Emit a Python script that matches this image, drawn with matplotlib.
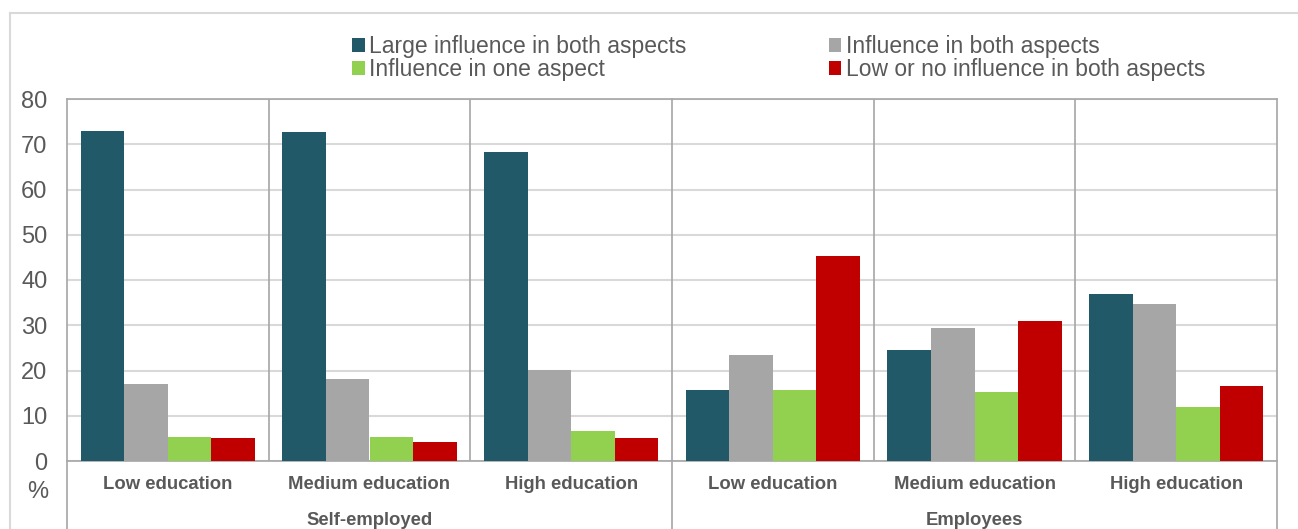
import numpy as np
import matplotlib.pyplot as plt
from matplotlib.lines import Line2D

plt.switch_backend('agg')
plt.rcParams['font.family'] = ['Liberation Sans', 'DejaVu Sans']

# data (%)
categories = ['Low education', 'Medium education', 'High education',
              'Low education', 'Medium education', 'High education']
groups = ['Self-employed', 'Employees']
series = ['Large influence in both aspects', 'Influence in both aspects',
          'Influence in one aspect', 'Low or no influence in both aspects']
large_both = [72.9, 72.7, 68.3, 15.7, 24.5, 37.0]
infl_both = [17.0, 18.1, 20.1, 23.4, 29.3, 34.7]
infl_one = [5.3, 5.3, 6.6, 15.8, 15.2, 12.0]
low_none = [5.0, 4.2, 5.1, 45.3, 30.9, 16.5]
yticks = [0, 10, 20, 30, 40, 50, 60, 70, 80]

colors = ['#215968', '#a6a6a6', '#92d050', '#c00000']
txt = '#595959'
sep = '#a6a6a6'

W, H = 1298, 529
fig = plt.figure(figsize=(W/100, H/100), dpi=100)
ax = fig.add_axes([67/W, (H-461)/H, (1277-67)/W, (461-99)/H])

# outer frame of the chart (only top/left visible in the crop)
fig.add_artist(Line2D([10/W, 10/W], [0, 1-13/H], color='#d9d9d9', lw=1.5,
                      transform=fig.transFigure))
fig.add_artist(Line2D([10/W, 1], [1-13/H, 1-13/H], color='#d9d9d9', lw=1.5,
                      transform=fig.transFigure))

x = np.arange(len(categories)) + 0.5
bw = 0.216
vals = [large_both, infl_both, infl_one, low_none]
for i, (v, c, lab) in enumerate(zip(vals, colors, series)):
    ax.bar(x + (i - 1.5)*bw, v, width=bw, color=c, label=lab, zorder=3,
           edgecolor='none')

ax.set_xlim(0, len(categories))
ax.set_ylim(0, 80)
ax.set_yticks(yticks)
ax.set_yticklabels([str(t) for t in yticks], fontsize=17, color=txt)
ax.tick_params(axis='y', length=0, pad=14)
ax.set_xticks([])
ax.yaxis.grid(True, color='#d9d9d9', lw=1.5, zorder=0)
for s in ax.spines.values():
    s.set_color(sep)
    s.set_linewidth(1.2)
ax.spines['left'].set_visible(False)
ax.spines['right'].set_visible(False)

# separators between categories and groups
for b in [1, 2, 4, 5]:
    ax.plot([b, b], [0, 80], color=sep, lw=1.2, zorder=4)
for b in [0, 3, 6]:
    ax.plot([b, b], [80, -15.2], color=sep, lw=1.2, zorder=4, clip_on=False)

for xi, cat in zip(x, categories):
    ax.text(xi, -5.3, cat, ha='center', va='center', fontsize=13.3,
            fontweight='bold', color=txt)
for gi, g in enumerate(groups):
    ax.text(1.5 + 3*gi, -13.1, g, ha='center', va='center', fontsize=13.3,
            fontweight='bold', color=txt)
fig.text(38/W, 1-492/H, '%', ha='center', va='center', fontsize=17, color=txt)

h, l = ax.get_legend_handles_labels()
order = [0, 2, 1, 3]
fig.legend([h[i] for i in order], [l[i] for i in order], ncol=2,
           loc='upper left', bbox_to_anchor=(352/W, 1-35/H), frameon=False,
           fontsize=16.5, labelcolor=txt, handlelength=0.55, handleheight=0.55,
           handletextpad=0.2, columnspacing=6.2, labelspacing=0.02,
           borderpad=0, borderaxespad=0)

fig.savefig('out.png', dpi=100)
